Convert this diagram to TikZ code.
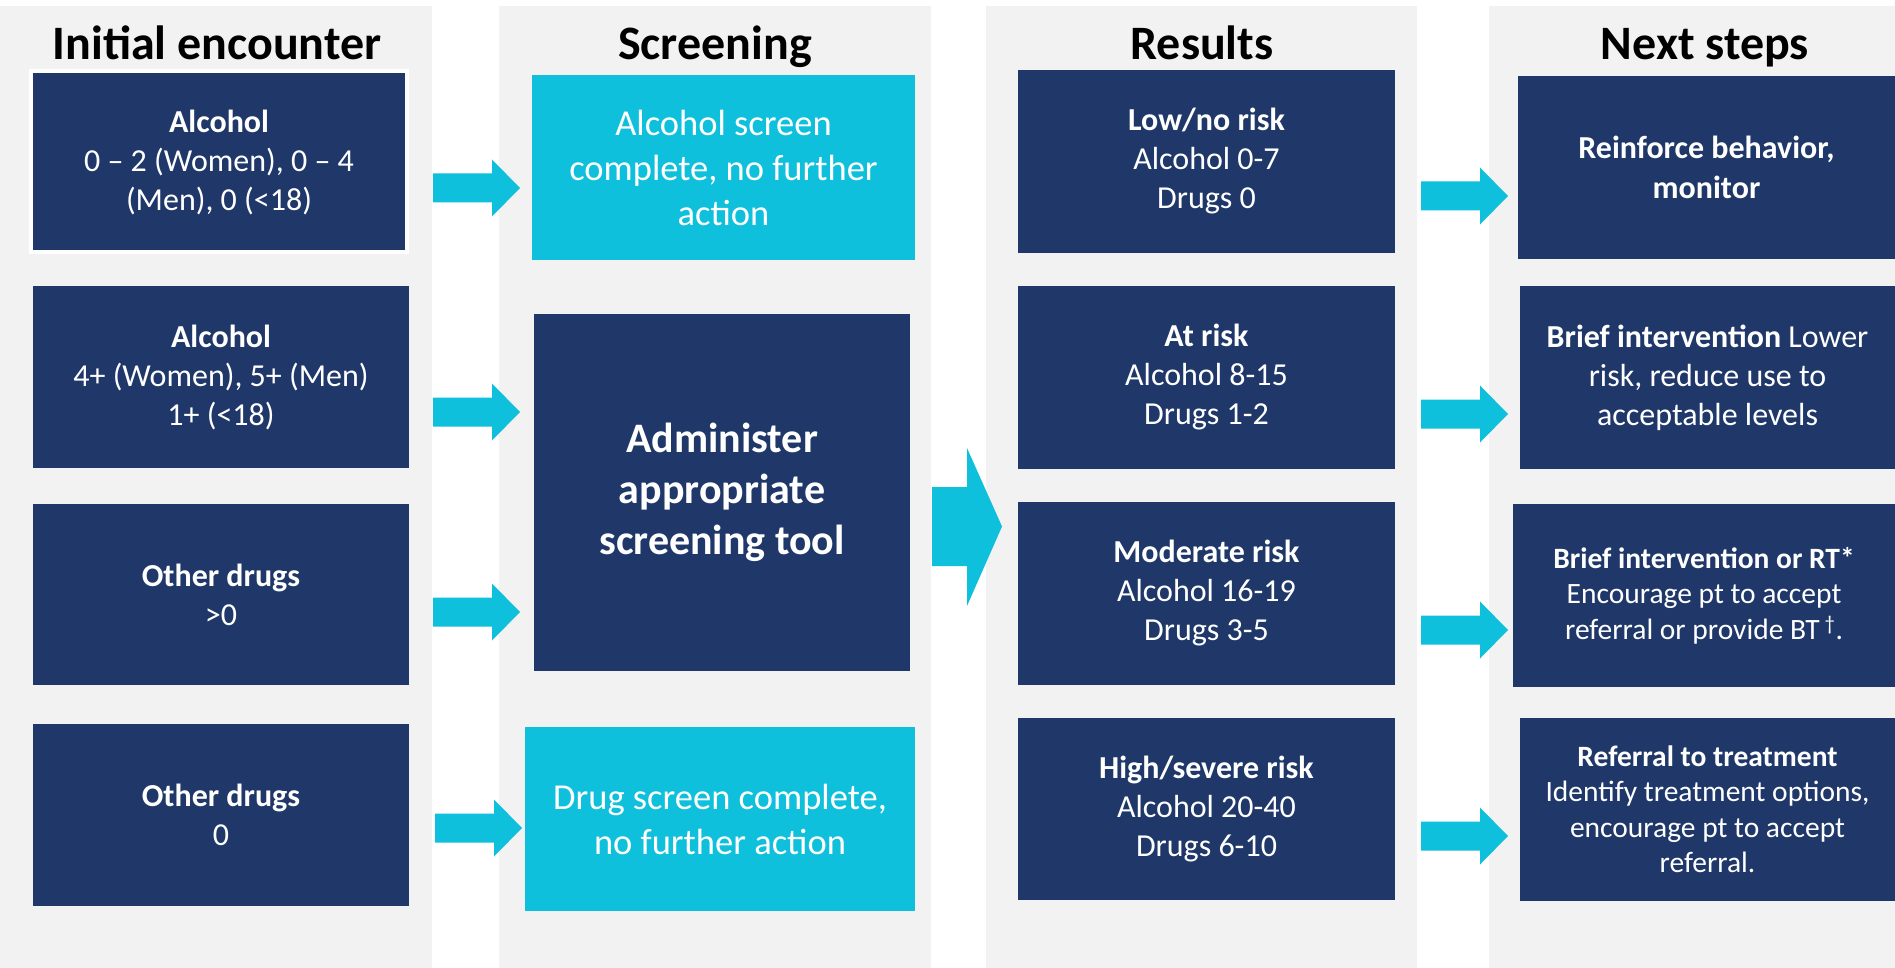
\documentclass[tikz,border=0pt]{standalone}
\usepackage{fontspec}
\setmainfont{Carlito}
\usetikzlibrary{calc}
\definecolor{navy}{HTML}{1F3869}
\definecolor{aqua}{HTML}{0FC0DC}
\definecolor{panel}{HTML}{F2F2F2}
\def\smallarrow(#1,#2){\fill[aqua] (#1,#2) ++(0,-14.5) -- ++(59,0) -- ++(0,-14) -- ++(28,28.5) -- ++(-28,28.5) -- ++(0,-14) -- ++(-59,0) -- cycle;}
\tikzset{
	navybox/.style={fill=navy, text=white, align=center, inner sep=0pt, font=\fontsize{32}{39}\selectfont},
	aquabox/.style={fill=aqua, text=white, align=center, inner sep=0pt, font=\fontsize{36.5}{45}\selectfont},
	smallbox/.style={navybox, font=\fontsize{29.5}{35.5}\selectfont},
	heading/.style={anchor=base, font=\bfseries\fontsize{48}{56}\selectfont},
}

\begin{document}
\begin{tikzpicture}[x=1pt, y=-1pt]
		%%%%% START %%%%%
		
		\fill[white] (0,0) rectangle (1895,968);
		\fill[panel] (0,6) rectangle (432,968);
		\fill[panel] (499,6) rectangle (931,968);
		\fill[panel] (986,6) rectangle (1417,968);
		\fill[panel] (1489,6) rectangle (1895,968);
		
		\node[heading] (encounter) at (217,60) {Initial encounter};
		\node[heading] (screening) at (715,60) {Screening};
		\node[heading] (results) at (1202,60) {Results};
		\node[heading] (nextsteps) at (1705,60) {Next steps};
		
		% initial encounter
		\node[navybox, draw=white, line width=4pt, minimum width=376, minimum height=181] (alc1) at (219,162) {\textbf{Alcohol}\\0 -- 2 (Women), 0 -- 4\\(Men), 0 (<18)};
		\node[navybox, minimum width=376, minimum height=182] (alc2) at (221,377) {\textbf{Alcohol}\\4+ (Women), 5+ (Men)\\1+ (<18)};
		\node[navybox, minimum width=376, minimum height=181] (drug1) at (221,594.5) {\textbf{Other drugs}\\>0};
		\node[navybox, minimum width=376, minimum height=182] (drug2) at (221,815) {\textbf{Other drugs}\\0};
		
		\smallarrow(433,188)
		\smallarrow(433,412)
		\smallarrow(433,612)
		\smallarrow(435,828)
		
		% screening
		\node[aquabox, minimum width=383, minimum height=185] (alcdone) at (723.5,167.5) {Alcohol screen\\complete, no further\\action};
		\node[navybox, minimum width=376, minimum height=357, font=\bfseries\fontsize{42}{51}\selectfont] (tool) at (722,492.5) {Administer\\appropriate\\screening tool};
		\node[aquabox, minimum width=390, minimum height=184] (drugdone) at (720,819) {Drug screen complete,\\no further action};
		
		\fill[aqua] (932,487) -- (967,487) -- (967,448) -- (1002,526.5) -- (967,606) -- (967,566) -- (932,566) -- cycle;
		
		% results
		\node[navybox, minimum width=377, minimum height=183] (low) at (1206.5,161.5) {\textbf{Low/no risk}\\Alcohol 0-7\\Drugs 0};
		\node[navybox, minimum width=377, minimum height=183] (atrisk) at (1206.5,377.5) {\textbf{At risk}\\Alcohol 8-15\\Drugs 1-2};
		\node[navybox, minimum width=377, minimum height=183] (moderate) at (1206.5,593.5) {\textbf{Moderate risk}\\Alcohol 16-19\\Drugs 3-5};
		\node[navybox, minimum width=377, minimum height=182] (high) at (1206.5,809) {\textbf{High/severe risk}\\Alcohol 20-40\\Drugs 6-10};
		
		\smallarrow(1421,196)
		\smallarrow(1421,414)
		\smallarrow(1421,630)
		\smallarrow(1421,836)
		
		% next steps
		\node[navybox, minimum width=377, minimum height=183, font=\bfseries\fontsize{32}{40}\selectfont] (reinforce) at (1706.5,167.5) {Reinforce behavior,\\monitor};
		\node[navybox, minimum width=375, minimum height=183] (brief) at (1707.5,377.5) {\textbf{Brief intervention} Lower\\risk, reduce use to\\acceptable levels};
		\node[smallbox, minimum width=382, minimum height=183] (briefrt) at (1704,595.5) {\textbf{Brief intervention or RT*}\\Encourage pt to accept\\referral or provide BT\,\textsuperscript{\textdagger}.};
		\node[smallbox, minimum width=375, minimum height=183] (referral) at (1707.5,809.5) {\textbf{Referral to treatment}\\Identify treatment options,\\encourage pt to accept\\referral.};
		
		%%%%% END %%%%%
\end{tikzpicture}
\end{document}
